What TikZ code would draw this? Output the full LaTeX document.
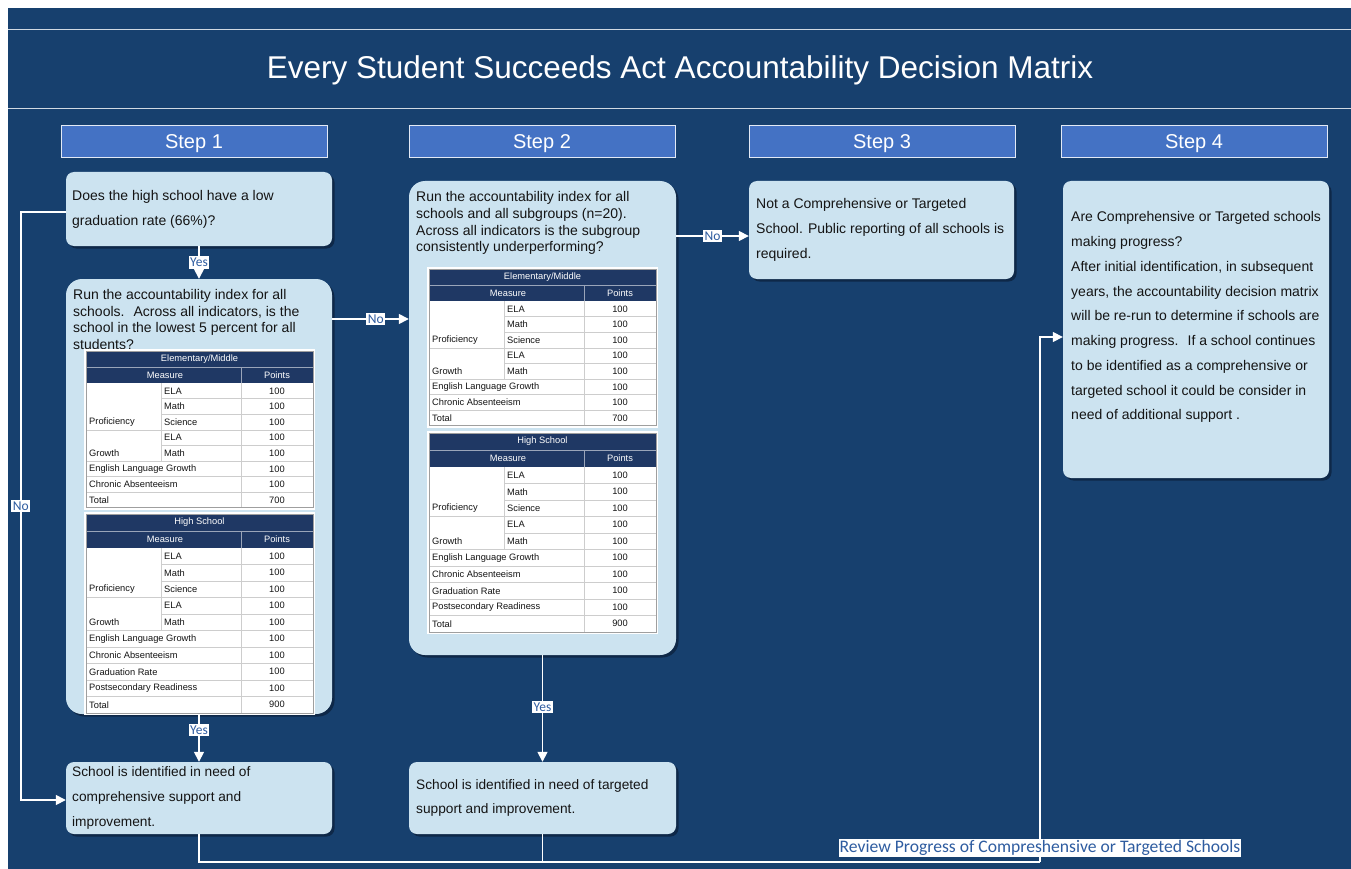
\documentclass[tikz,border=0pt]{standalone}
\usepackage{fontspec}
\setmainfont{Liberation Sans}
\newfontfamily\calibri{Carlito}
\usetikzlibrary{arrows.meta,shadows}

\definecolor{bgblue}{RGB}{23,64,110}
\definecolor{stepblue}{RGB}{68,114,196}
\definecolor{boxblue}{RGB}{204,227,240}
\definecolor{navy}{RGB}{31,56,100}
\definecolor{shadowblue}{RGB}{14,40,72}
\definecolor{labelblue}{RGB}{46,92,160}
\definecolor{gridgray}{RGB}{205,205,205}
\definecolor{txt}{RGB}{20,20,20}

\tikzset{
  stephead/.style={fill=stepblue, draw=white!85!stepblue, line width=0.8pt,
    minimum width=266, minimum height=32, inner sep=0, text=white,
    text height=14.5, text depth=0,
    font=\fontsize{20}{24}\selectfont},
  card/.style={fill=boxblue, rounded corners=8, inner sep=0,
    drop shadow={shadow xshift=2.5pt, shadow yshift=-2.5pt, fill=shadowblue, opacity=1}},
  bigcard/.style={card, rounded corners=16},
  boxtext/.style={anchor=north west, inner sep=0, align=left, text=txt},
  conn/.style={draw=white, line width=1.5pt, -{Triangle[length=10pt,width=10pt]}},
  wire/.style={draw=white, line width=1.5pt},
  lbl/.style={fill=white, text=labelblue, inner xsep=1.5pt, inner ysep=2pt,
    font=\calibri\fontsize{13.5}{14}\selectfont},
  thead/.style={text=white, inner sep=0, font=\fontsize{9.3}{10}\selectfont},
  tcell/.style={anchor=west, inner sep=0, text=txt, font=\fontsize{9.3}{10}\selectfont},
  tnum/.style={inner sep=0, text=txt, font=\fontsize{9.3}{10}\selectfont},
  grid/.style={draw=gridgray, line width=0.6pt}
}

% Points table: left, top, title row height, body row height, title,
% full-width rows (label/points), number of body rows
\newcommand{\scoretable}[7]{%
  \begin{scope}[shift={(#1,#2)}]
    \pgfmathsetmacro{\tT}{#3}
    \pgfmathsetmacro{\tH}{2*#3}
    \pgfmathsetmacro{\tR}{#4}
    \pgfmathsetmacro{\tB}{2*#3+#7*#4}
    \pgfmathtruncatemacro{\tN}{#7-1}
    \fill[white] (-2,-2) rectangle (229,\tB+2);
    \fill[navy] (0,0) rectangle (227,\tH);
    \draw[white!55!navy, line width=0.8pt] (0,\tT) -- (227,\tT);
    \draw[white!55!navy, line width=0.8pt] (155,\tT) -- (155,\tH);
    \node[thead] at (113.5,\tT/2) {#5};
    \node[thead] at (79,\tT*1.5) {Measure};
    \node[thead] at (191,\tT*1.5) {Points};
    \foreach \i in {1,2,4} \draw[grid] (75,\tH+\i*\tR) -- (227,\tH+\i*\tR);
    \draw[grid] (0,\tH+3*\tR) -- (227,\tH+3*\tR);
    \foreach \i in {5,...,\tN} \draw[grid] (0,\tH+\i*\tR) -- (227,\tH+\i*\tR);
    \draw[grid] (75,\tH) -- (75,\tH+5*\tR);
    \draw[grid] (155,\tH) -- (155,\tB);
    \draw[gray!75, line width=0.8pt] (0,0) rectangle (227,\tB);
    \foreach \lab [count=\i from 0] in {ELA,Math,Science,ELA,Math} {
      \node[tcell] at (78,\tH+\i*\tR+\tR/2) {\lab};
      \node[tnum] at (191,\tH+\i*\tR+\tR/2) {100};
    }
    \node[tcell] at (3,\tH+2.5*\tR) {Proficiency};
    \node[tcell] at (3,\tH+4.5*\tR) {Growth};
    \foreach \lab/\val [count=\i from 5] in {#6} {
      \node[tcell] at (3,\tH+\i*\tR+\tR/2) {\lab};
      \node[tnum] at (191,\tH+\i*\tR+\tR/2) {\val};
    }
  \end{scope}%
}

\begin{document}
\begin{tikzpicture}[x=1pt, y=-1pt]
  \useasboundingbox (0,0) rectangle (1351,869);
  \fill[white] (0,0) rectangle (1351,869);
  \fill[bgblue] (8,8) rectangle (1351,869);
  \draw[white!80!bgblue, line width=1pt] (8,30) -- (1351,30);
  \draw[white!80!bgblue, line width=1pt] (8,109) -- (1351,109);

  \node[text=white, font=\fontsize{31.5}{36}\selectfont] (title) at (680,70)
    {Every Student Succeeds Act Accountability Decision Matrix};

  % step headers
  \node[stephead] (st1) at (194,141) {Step 1};
  \node[stephead] (st2) at (542,141) {Step 2};
  \node[stephead] (st3) at (882,141) {Step 3};
  \node[stephead] (st4) at (1194,141) {Step 4};

  % decision and outcome cards
  \node[card, minimum width=266, minimum height=74] (q1) at (199,209) {};
  \node[bigcard, minimum width=266, minimum height=435] (b1) at (199,496.5) {};
  \node[card, minimum width=266, minimum height=72] (e1) at (199,798) {};
  \node[bigcard, minimum width=267, minimum height=474] (b2) at (542.5,418) {};
  \node[card, minimum width=267, minimum height=72] (e2) at (542.5,798) {};
  \node[card, minimum width=265, minimum height=98] (s3) at (881.5,230) {};
  \node[card, minimum width=266, minimum height=297] (s4) at (1196,329.5) {};

  \node[boxtext, font=\fontsize{14}{25}\selectfont] (q1t) at (72,190.5)
    {Does the high school have a low\\graduation rate (66\%)?};
  \node[boxtext, font=\fontsize{14}{16.4}\selectfont] (b1t) at (73,289.5)
    {Run the accountability index for all\\schools.~ Across all indicators, is the\\school in the lowest 5 percent for all\\students?};
  \node[boxtext, font=\fontsize{14}{16.6}\selectfont] (b2t) at (416,191.5)
    {Run the accountability index for all\\schools and all subgroups (n=20).\\Across all indicators is the subgroup\\consistently underperforming?};
  \node[boxtext, font=\fontsize{14}{25}\selectfont] (s3t) at (756,198.5)
    {Not a Comprehensive or Targeted\\School. Public reporting of all schools is\\required.};
  \node[boxtext, font=\fontsize{14}{24.75}\selectfont] (s4t) at (1071,211.5)
    {Are Comprehensive or Targeted schools\\making progress?\\After initial identification, in subsequent\\years, the accountability decision matrix\\will be re-run to determine if schools are\\making progress.~ If a school continues\\to be identified as a comprehensive or\\targeted school it could be consider in\\need of additional support .};
  \node[boxtext, font=\fontsize{13.7}{25}\selectfont] (e1t) at (72,766.5)
    {School is identified in need of\\comprehensive support and\\improvement.};
  \node[boxtext, font=\fontsize{13.7}{24}\selectfont] (e2t) at (416,779.5)
    {School is identified in need of targeted\\support and improvement.};

  % points tables
  \scoretable{86}{351}{16}{15.6}{Elementary/Middle}
    {English Language Growth/100, Chronic Absenteeism/100, Total/700}{8}
  \scoretable{86}{514}{17}{16.5}{High School}
    {English Language Growth/100, Chronic Absenteeism/100, Graduation Rate/100, Postsecondary Readiness/100, Total/900}{10}
  \scoretable{429}{269}{16}{15.6}{Elementary/Middle}
    {English Language Growth/100, Chronic Absenteeism/100, Total/700}{8}
  \scoretable{429}{433}{17}{16.5}{High School}
    {English Language Growth/100, Chronic Absenteeism/100, Graduation Rate/100, Postsecondary Readiness/100, Total/900}{10}

  % connectors
  \draw[conn] (q1.south) -- node[lbl] {Yes} (b1.north);
  \draw[conn] (q1.west |- 0,212) -- ++(-45,0) |- node[lbl, pos=0.25] {No} (e1.west |- 0,800);
  \draw[conn] (b1.east |- 0,319) -- node[lbl, pos=0.57] {No} (b2.west |- 0,319);
  \draw[conn] (b1.south) -- node[lbl, pos=0.33] {Yes} (e1.north);
  \draw[conn] (b2.east |- 0,236) -- node[lbl] {No} (s3.west |- 0,236);
  \draw[conn] (b2.south) -- node[lbl, pos=0.486] {Yes} (e2.north);

  \coordinate (loop) at (1040,862);
  \draw[wire] (e1.south) |- (loop);
  \draw[wire] (e2.south) -- (e2.south |- loop);
  \draw[conn] (loop) -- (loop |- 0,337) -- (s4.west |- 0,337);
  \node[lbl, font=\calibri\fontsize{17.6}{19}\selectfont, inner xsep=1pt, inner ysep=1pt] (review) at (1040,848)
    {Review Progress of Compreshensive or Targeted Schools};
\end{tikzpicture}
\end{document}
